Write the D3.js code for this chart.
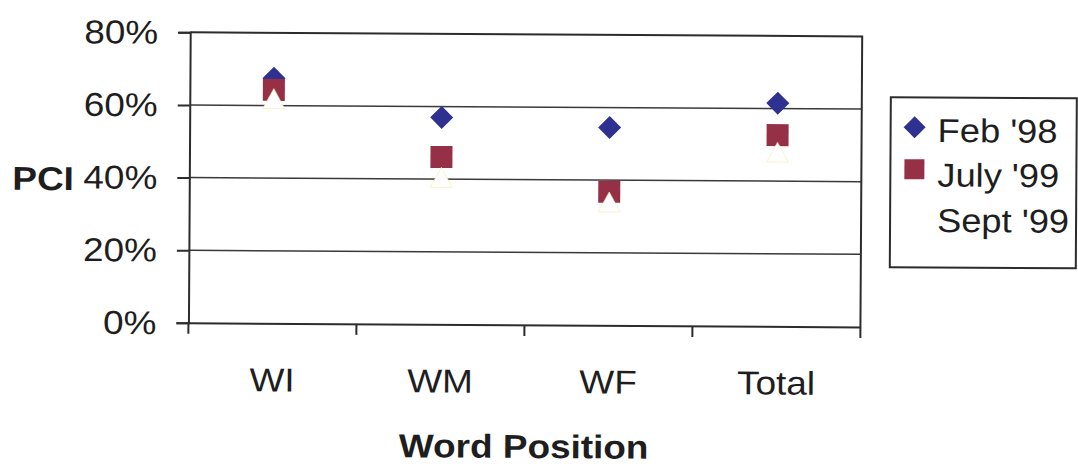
<!DOCTYPE html>
<html>
<head>
<meta charset="utf-8">
<script src="https://cdn.jsdelivr.net/npm/d3@7"></script>
<style>
  html, body { margin: 0; padding: 0; background: #ffffff; }
  svg { display: block; }
  text { font-family: "Liberation Sans", Arial, Helvetica, sans-serif; fill: #1e1e1e; }
</style>
</head>
<body>
<svg id="chart" width="1078" height="464"></svg>
<script>
// Percent correct per word position, three test sessions
const categories = ["WI", "WM", "WF", "Total"];
const seriesNames = ["Feb '98", "July '99", "Sept '99"];
const feb98  = [0.675, 0.570, 0.545, 0.615];
const july99 = [0.643, 0.461, 0.368, 0.527];
const sept99 = [0.619, 0.405, 0.340, 0.480];
const yTicks = [0, 0.2, 0.4, 0.6, 0.8];

const svg = d3.select("#chart");
const plot = { left: 189, right: 861, top: 34.5, bottom: 325 };
const fontSize = 33, stretch = 1.12;
const ink = "#2c2c2c";

// whole figure sits very slightly tilted
const root = svg.append("g").attr("transform", "rotate(0.35, 540, 232)");

const x = d3.scaleBand().domain(categories).range([plot.left, plot.right]).padding(0);
const y = d3.scaleLinear().domain([0, 0.8]).range([plot.bottom, plot.top]);

// horizontal gridlines
root.append("g").selectAll("line")
  .data(yTicks.filter(d => d > 0 && d < 0.8))
  .join("line")
  .attr("x1", plot.left).attr("x2", plot.right)
  .attr("y1", d => y(d)).attr("y2", d => y(d))
  .attr("stroke", "#3a3a3a").attr("stroke-width", 1.5);

// plot frame: top and right edges
root.append("path")
  .attr("d", `M${plot.left},${y(0.8)}H${plot.right}V${y(0)}`)
  .attr("fill", "none").attr("stroke", ink).attr("stroke-width", 2);

// y axis
const yAxis = root.append("g")
  .attr("transform", `translate(${plot.left},0)`)
  .call(d3.axisLeft(y).tickValues(yTicks).tickFormat(d3.format(".0%")).tickSize(12).tickPadding(0));
yAxis.select(".domain").attr("stroke", ink).attr("stroke-width", 2);
yAxis.selectAll(".tick line").attr("stroke", ink).attr("stroke-width", 2);
yAxis.selectAll(".tick text")
  .attr("x", -32).attr("dy", null).attr("y", 11)
  .attr("font-size", fontSize).attr("font-family", null)
  .attr("text-anchor", "end").attr("fill", "#1e1e1e")
  .attr("transform", `translate(-32,0) scale(${stretch},1) translate(32,0)`);

// x axis
const xAxis = root.append("g")
  .attr("transform", `translate(0,${plot.bottom})`)
  .call(d3.axisBottom(x).tickSize(0).tickPadding(0));
xAxis.select(".domain").attr("stroke", ink).attr("stroke-width", 2);
xAxis.selectAll(".tick text")
  .attr("dy", null).attr("y", 68)
  .attr("font-size", fontSize).attr("font-family", null).attr("fill", "#1e1e1e")
  .attr("transform", `scale(${stretch},1)`);
// category boundary ticks
xAxis.append("g").selectAll("line")
  .data(d3.range(categories.length + 1))
  .join("line")
  .attr("x1", i => plot.left + i * x.step()).attr("x2", i => plot.left + i * x.step())
  .attr("y1", 0).attr("y2", 11)
  .attr("stroke", ink).attr("stroke-width", 2);

// axis titles
const titleX = (plot.left + plot.right) / 2;
root.append("text")
  .attr("x", titleX).attr("y", 458)
  .attr("text-anchor", "middle").attr("font-size", fontSize).attr("font-weight", "bold")
  .attr("transform", `translate(${titleX},0) scale(${stretch},1) translate(${-titleX},0)`)
  .text("Word Position");
root.append("text")
  .attr("x", 12).attr("y", 193)
  .attr("text-anchor", "start").attr("font-size", fontSize).attr("font-weight", "bold")
  .attr("transform", `translate(12,0) scale(${stretch},1) translate(-12,0)`)
  .text("PCI");

// marker shapes
const diamond = s => `M0,${-s}L${s},0L0,${s}L${-s},0Z`;
const square = s => `M${-s},${-s}H${s}V${s}H${-s}Z`;
const triangle = (w, h) => `M0,${-h / 2}L${w / 2},${h / 2}L${-w / 2},${h / 2}Z`;

const colors = { feb: "#2f3190", july: "#963047", sept: "#ffffff" };
const cx = (d, i) => x(categories[i]) + x.bandwidth() / 2;

root.append("g").selectAll("path")
  .data(feb98).join("path")
  .attr("transform", (d, i) => `translate(${cx(d, i)},${y(d)})`)
  .attr("d", diamond(11.5)).attr("fill", colors.feb);

root.append("g").selectAll("path")
  .data(july99).join("path")
  .attr("transform", (d, i) => `translate(${cx(d, i)},${y(d)})`)
  .attr("d", square(11)).attr("fill", colors.july);

// the third session's markers are a washed-out pale yellow, nearly white
root.append("g").selectAll("path")
  .data(sept99).join("path")
  .attr("transform", (d, i) => `translate(${cx(d, i)},${y(d)})`)
  .attr("d", triangle(22, 20)).attr("fill", colors.sept)
  .attr("stroke", "#f7eaa8").attr("stroke-width", 0.6);

// legend
const legend = root.append("g");
legend.append("rect")
  .attr("x", 890).attr("y", 95).attr("width", 186).attr("height", 170)
  .attr("fill", "#ffffff").attr("stroke", ink).attr("stroke-width", 2);
const legendRows = [
  { name: seriesNames[0], y: 139.5, mark: diamond(11), fill: colors.feb, my: 125 },
  { name: seriesNames[1], y: 184, mark: square(10), fill: colors.july, my: 167 },
  { name: seriesNames[2], y: 229.5, mark: triangle(20, 18), fill: colors.sept, my: 218 }
];
legendRows.forEach(r => {
  legend.append("path")
    .attr("transform", `translate(914,${r.my})`)
    .attr("d", r.mark).attr("fill", r.fill);
  legend.append("text")
    .attr("x", 937).attr("y", r.y)
    .attr("font-size", 33)
    .attr("transform", `translate(937,0) scale(1.1,1) translate(-937,0)`)
    .text(r.name);
});
</script>
</body>
</html>
